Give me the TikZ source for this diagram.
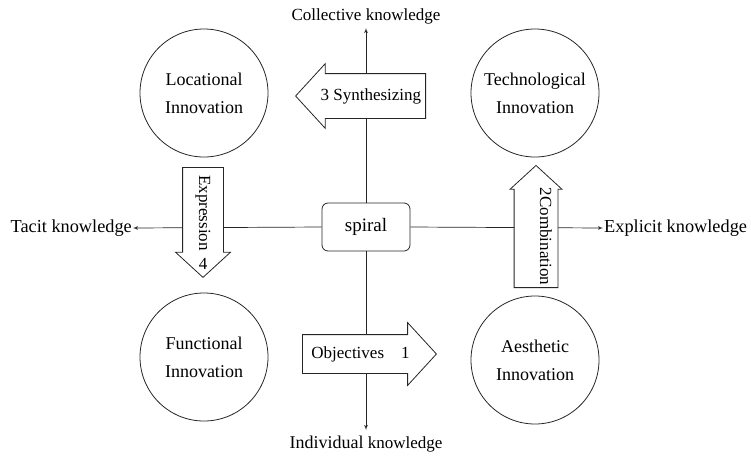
\documentclass[tikz,border=0pt]{standalone}
\usepackage{fontspec}
\setmainfont{Liberation Serif}
\usepackage{graphicx}
\usetikzlibrary{arrows,positioning,shapes.arrows}
\tikzset{
    %Define standard arrow tip
    >=latex',
    %Define style for the innovation circles
    bubble/.style={
           circle,
           draw=black!85,
           line width=0.8pt,
           minimum size=128pt,
           align=center,
           font=\fontsize{18}{28}\selectfont},
    %Define style for the knowledge texts
    knowtext/.style={
           inner sep=1pt,
           font=\fontsize{17}{20}\selectfont},
    %Define style for the middle box
    centerbox/.style={
           rectangle,
           rounded corners=6pt,
           draw=black!85,
           line width=0.8pt,
           fill=white,
           minimum width=88pt,
           minimum height=48pt,
           font=\fontsize{19}{20}\selectfont},
    %Define style for the block arrows
    blockarrow/.style={
           single arrow,
           draw=black!85,
           fill=white,
           line width=0.8pt,
           single arrow tip angle=95,
           single arrow head indent=0pt,
           text height=12pt,
           text depth=4pt,
           inner xsep=2pt,
           font=\fontsize{17}{20}\selectfont},
    % Define axis style
    axis/.style={
           ->,
           line width=0.7pt,
           draw=black!85}
}
\begin{document}
\begin{tikzpicture}[x=1pt,y=-1pt]
 \useasboundingbox (0,0) rectangle (751,456);
 %texts at the ends of the axes
 \node[knowtext, anchor=south, inner ysep=4pt] (collective) at (366,28) {Collective knowledge};
 \node[knowtext, anchor=north, inner ysep=6pt] (individual) at (366,430)
   {{\fontsize{18}{20}\selectfont Individual} knowledge};
 \node[knowtext, anchor=east, font=\fontsize{18.3}{20}\selectfont] (tacit) at (133,228) {Tacit knowledge};
 \node[knowtext, anchor=west, font=\fontsize{18.3}{20}\selectfont] (explicit) at (603,228) {Explicit knowledge};
 \node[centerbox] (spiral) at (366,227) {spiral};
 % the axes run from the box out to the texts
 \draw[axis] (spiral.north) -- (collective.south);
 \draw[axis] (spiral.south) -- (individual.north);
 \draw[axis] (spiral.west) -- (tacit.east);
 \draw[axis] (spiral.east) -- (explicit.west);
 %circles
 \node[bubble] (locational) at (204,93) {Locational\\Innovation};
 \node[bubble] (technological) at (535,93) {Technological\\Innovation};
 \node[bubble] (functional) at (204,357) {Functional\\Innovation};
 \node[bubble] (aesthetic) at (535,360) {Aesthetic\\Innovation};
 % block arrows, drawn over the axes
 \node[blockarrow, shape border rotate=180, anchor=tail, inner ysep=14pt,
   single arrow head extend=10pt, minimum height=130pt] (synthesizing) at (426,96) {3 Synthesizing};
 \node[blockarrow, anchor=tail, inner ysep=11pt,
   single arrow head extend=12pt, minimum height=134pt] (objectives) at (302,354) {Objectives\quad 1};
 \node[blockarrow, rotate=-90, anchor=tail, inner ysep=12pt,
   single arrow head extend=7pt, minimum height=110pt] (expression) at (203,167) {Expression};
 \node[knowtext] (four) at (203,264) {4};
 \node[blockarrow, rotate=90, anchor=tail, inner ysep=13.5pt,
   single arrow head extend=4pt, minimum height=113pt] (combination) at (536,288) {\rotatebox{180}{2Combination}};
\end{tikzpicture}
\end{document}
